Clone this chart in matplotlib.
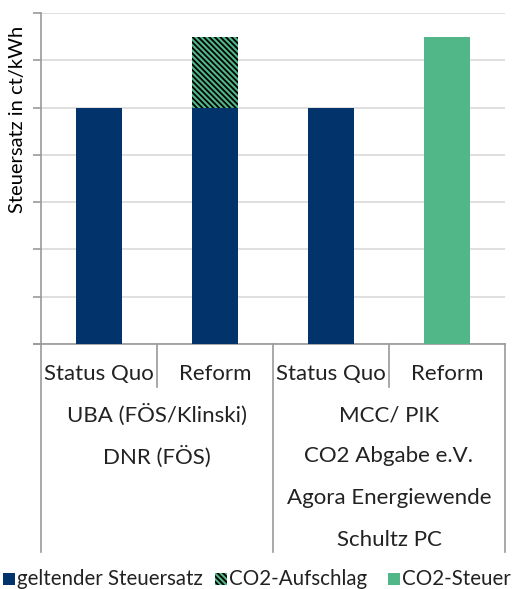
import matplotlib
matplotlib.use("Agg")
import matplotlib.pyplot as plt
from matplotlib.patches import Rectangle
from matplotlib.transforms import blended_transform_factory

plt.rcParams['font.family'] = ['Lato', 'DejaVu Sans']
plt.rcParams['hatch.linewidth'] = 1.3

# data
subcats = ['Status Quo', 'Reform', 'Status Quo', 'Reform']
base_rate = [5, 5, 5, 0]          # geltender Steuersatz
surcharge = [0, 1.5, 0, 0]        # CO2-Aufschlag
co2_tax = [0, 0, 0, 6.5]          # CO2-Steuer
group_labels = [
    ['UBA (FÖS/Klinski)', 'DNR (FÖS)'],
    ['MCC/ PIK', 'CO2 Abgabe e.V.', 'Agora Energiewende', 'Schultz PC'],
]
legend_labels = ['geltender Steuersatz', 'CO2-Aufschlag', 'CO2-Steuer']

navy = '#02336b'
green = '#52b788'
axis_gray = '#9a9a9a'
hatch = '\\' * 6

W, H = 512, 589
fig = plt.figure(figsize=(W / 100, H / 100), dpi=100)
ax = fig.add_axes([41 / W, 1 - 344 / H, 464 / W, 331 / H])

x = list(range(len(subcats)))
ax.bar(x, base_rate, width=0.4, color=navy, zorder=3)
ax.bar(x, surcharge, width=0.4, bottom=base_rate, facecolor=green,
       edgecolor='black', linewidth=0, hatch=hatch, zorder=3)
ax.bar(x, co2_tax, width=0.4, color=green, zorder=3)

ax.set_xlim(-0.5, len(subcats) - 0.5)
ax.set_ylim(0, 7)
ax.set_yticks(range(0, 8))
ax.set_yticklabels([])
ax.set_xticks([])
ax.grid(axis='y', color='#d9d9d9', linewidth=1.2, zorder=0)
ax.tick_params(axis='y', length=6, color=axis_gray, width=1.2)
for s in ['top', 'right']:
    ax.spines[s].set_visible(False)
ax.spines['left'].set_color(axis_gray)
ax.spines['bottom'].set_color(axis_gray)
ax.spines['left'].set_linewidth(1.2)
ax.spines['bottom'].set_linewidth(1.2)

ax.set_ylabel('Steuersatz in ct/kWh', fontsize=14.5)
ax.yaxis.set_label_coords(-0.033, 0.68)

# category table below the axis
tr = blended_transform_factory(ax.transData, fig.transFigure)
fy = lambda py: 1 - py / H
lw = dict(color=axis_gray, linewidth=1.2, clip_on=False, transform=tr)
# short separators between sub categories
for xs in [0.5, 2.5]:
    ax.plot([xs, xs], [fy(344), fy(387)], **lw)
# long separators between groups
for xs in [-0.5, 1.5, 3.5]:
    ax.plot([xs, xs], [fy(344), fy(552)], **lw)
ax.plot([-0.56, -0.5], [fy(344), fy(344)], **lw)

for i, lab in enumerate(subcats):
    ax.text(i, fy(374), lab, transform=tr, ha='center', va='center',
            fontsize=16, color='#222222')
for g, lines in enumerate(group_labels):
    xc = 2 * g + 0.5
    for j, lab in enumerate(lines):
        ax.text(xc, fy(415 + 41.5 * j), lab, transform=tr, ha='center',
                va='center', fontsize=16, color='#222222')

# legend drawn as a row of swatches + labels along the bottom edge
legend_styles = [
    dict(facecolor=navy, edgecolor='none'),
    dict(facecolor=green, edgecolor='black', linewidth=0, hatch=hatch),
    dict(facecolor=green, edgecolor='none'),
]
swatch_x = [3, 215, 388]
for sx, style, lab in zip(swatch_x, legend_styles, legend_labels):
    fig.patches.append(Rectangle((sx / W, fy(585)), 12 / W, 12 / H,
                                 transform=fig.transFigure, **style))
    fig.text((sx + 14) / W, fy(579), lab, ha='left', va='center',
             fontsize=14.8, color='#222222')

fig.savefig('out.png', dpi=100)
